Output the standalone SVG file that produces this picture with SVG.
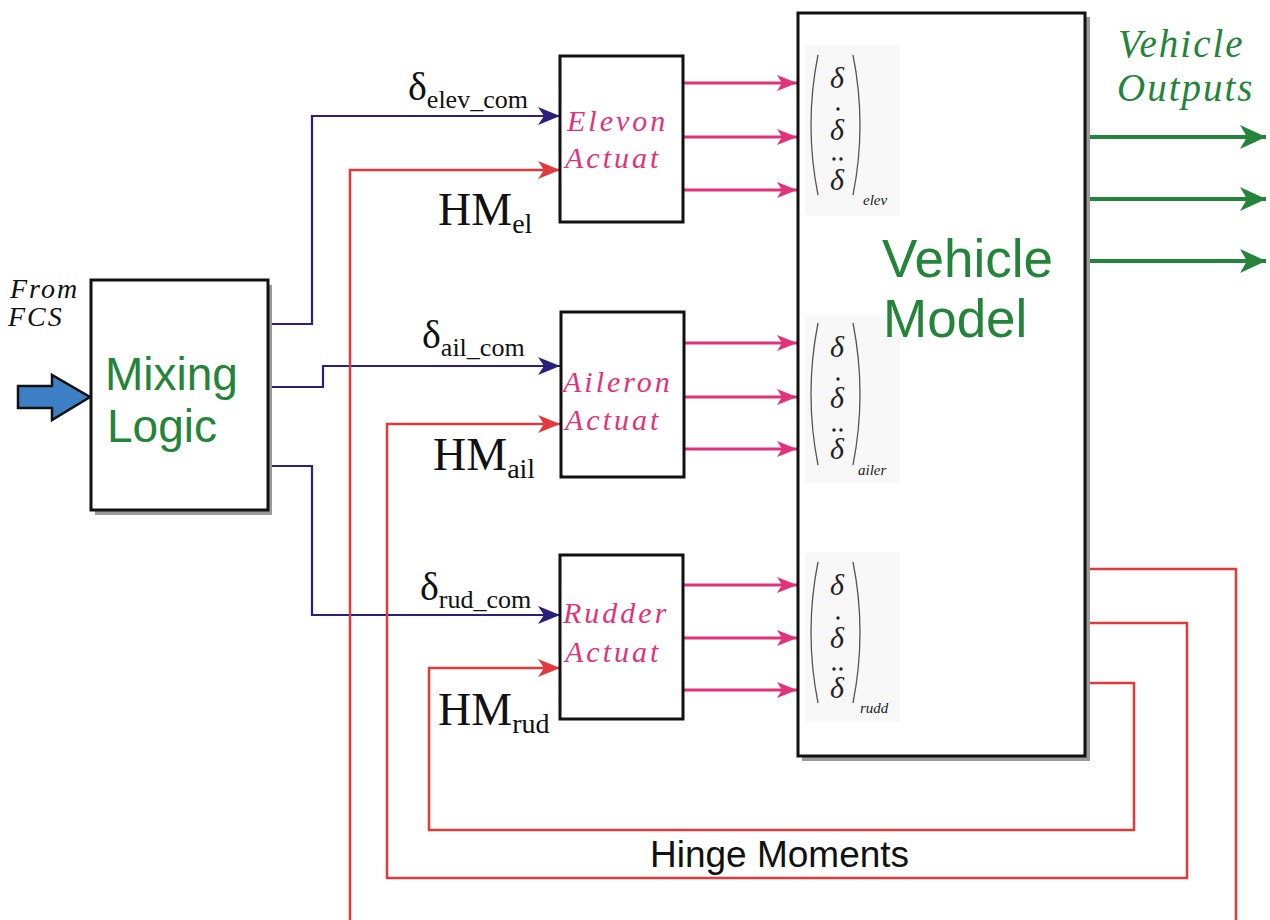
<svg xmlns="http://www.w3.org/2000/svg" width="1270" height="920" viewBox="0 0 1270 920">
<style>
.box{fill:#fff;stroke:#111;stroke-width:3}
.shadow{fill:#9a9a9a}
.blue{fill:none;stroke:#2b1f7d;stroke-width:2.2}
.red{fill:none;stroke:#e03a3a;stroke-width:2.5}
.pink{fill:none;stroke:#e0337a;stroke-width:3}
.green{fill:none;stroke:#23843a;stroke-width:4}
.serif{font-family:"Liberation Serif","Times New Roman",serif;fill:#111}
.it{font-style:italic}
.sans{font-family:"Liberation Sans",Arial,sans-serif}
.gtxt{fill:#23843a}
.ptxt{font-family:"Liberation Serif","Times New Roman",serif;font-style:italic;fill:#e0337a;font-size:30px;letter-spacing:3px}
.mbg{fill:#f8f8f8}
.paren{fill:none;stroke:#555;stroke-width:1.3}
.md{font-family:"Liberation Serif","Times New Roman",serif;font-style:italic;font-size:30px;fill:#222;text-anchor:middle}
.msub{font-family:"Liberation Serif","Times New Roman",serif;font-style:italic;font-size:15px;fill:#222}
.dot{fill:#222}
</style>
<defs>
<marker id="ab" markerUnits="userSpaceOnUse" markerWidth="22" markerHeight="18" refX="22" refY="9" orient="auto"><path d="M0,0 L22,9 L0,18 L6,9 z" fill="#2b1f7d"/></marker>
<marker id="ar" markerUnits="userSpaceOnUse" markerWidth="22" markerHeight="18" refX="22" refY="9" orient="auto"><path d="M0,0 L22,9 L0,18 L6,9 z" fill="#e03a3a"/></marker>
<marker id="ap" markerUnits="userSpaceOnUse" markerWidth="20" markerHeight="16" refX="20" refY="8" orient="auto"><path d="M0,0 L20,8 L0,16 L5,8 z" fill="#e0337a"/></marker>
<marker id="ag" markerUnits="userSpaceOnUse" markerWidth="26" markerHeight="24" refX="26" refY="12" orient="auto"><path d="M0,0 L26,12 L0,24 L7,12 z" fill="#23843a"/></marker>
</defs>
<rect width="1270" height="920" fill="#fff"/>

<g id="connectors">
<path class="blue" d="M268,324 H312 V116 H560" marker-end="url(#ab)"/>
<path class="blue" d="M268,387 H323 V366 H560" marker-end="url(#ab)"/>
<path class="blue" d="M268,466 H312 V615 H560" marker-end="url(#ab)"/>
<path class="red" d="M350,925 V170 H560" marker-end="url(#ar)"/>
<path class="red" d="M1088,569 H1236 V925"/>
<path class="red" d="M1088,623 H1187 V878 H387 V424 H560" marker-end="url(#ar)"/>
<path class="red" d="M1088,683 H1134 V830 H429 V668 H560" marker-end="url(#ar)"/>
<path class="pink" d="M684,83 H797" marker-end="url(#ap)"/>
<path class="pink" d="M684,137 H797" marker-end="url(#ap)"/>
<path class="pink" d="M684,190 H797" marker-end="url(#ap)"/>
<path class="pink" d="M684,343 H797" marker-end="url(#ap)"/>
<path class="pink" d="M684,397 H797" marker-end="url(#ap)"/>
<path class="pink" d="M684,449 H797" marker-end="url(#ap)"/>
<path class="pink" d="M684,585 H797" marker-end="url(#ap)"/>
<path class="pink" d="M684,638 H797" marker-end="url(#ap)"/>
<path class="pink" d="M684,690 H797" marker-end="url(#ap)"/>
<path class="green" d="M1088,137 H1266" marker-end="url(#ag)"/>
<path class="green" d="M1088,199 H1266" marker-end="url(#ag)"/>
<path class="green" d="M1088,261 H1266" marker-end="url(#ag)"/>
</g>

<g id="input">
<path d="M18,386 H52 V375 L90,397 L52,420 V408 H18 Z" fill="#3d7fc4" stroke="#111" stroke-width="2.5" stroke-linejoin="miter"/>
<text class="serif it" font-size="28" letter-spacing="2" x="10" y="298">From</text>
<text class="serif it" font-size="28" letter-spacing="2" x="8" y="326">FCS</text>
</g>

<g id="mixing">
<rect class="shadow" x="95" y="285" width="177" height="230"/>
<rect class="box" x="91" y="280" width="177" height="230"/>
<text class="sans gtxt" font-size="46" x="105" y="390">Mixing</text>
<text class="sans gtxt" font-size="46" x="107" y="442">Logic</text>
</g>

<g id="labels">
<text class="serif" x="408" y="100"><tspan font-size="40">δ</tspan><tspan font-size="26" dy="8">elev_com</tspan></text>
<text class="serif" x="422" y="348"><tspan font-size="40">δ</tspan><tspan font-size="26" dy="8">ail_com</tspan></text>
<text class="serif" x="420" y="600"><tspan font-size="40">δ</tspan><tspan font-size="26" dy="8">rud_com</tspan></text>
<text class="serif" x="438" y="225"><tspan font-size="46">HM</tspan><tspan font-size="28" dy="8">el</tspan></text>
<text class="serif" x="433" y="470"><tspan font-size="46">HM</tspan><tspan font-size="28" dy="8">ail</tspan></text>
<text class="serif" x="438" y="725"><tspan font-size="46">HM</tspan><tspan font-size="28" dy="8">rud</tspan></text>
<text class="sans" font-size="37" fill="#111" x="650" y="867">Hinge Moments</text>
</g>

<g id="elevon">
<rect class="box" x="560" y="56" width="123" height="166"/>
<text class="ptxt" x="567" y="131">Elevon</text>
<text class="ptxt" x="565" y="168">Actuat</text>
</g>

<g id="aileron">
<rect class="box" x="561" y="312" width="123" height="165"/>
<text class="ptxt" x="563" y="392">Aileron</text>
<text class="ptxt" x="565" y="430">Actuat</text>
</g>

<g id="rudder">
<rect class="box" x="560" y="555" width="123" height="164"/>
<text class="ptxt" x="563" y="623">Rudder</text>
<text class="ptxt" x="565" y="662">Actuat</text>
</g>

<g id="vehicle">
<rect class="shadow" x="802" y="17" width="288" height="744"/>
<rect class="box" x="798" y="13" width="287" height="743"/>

<rect class="mbg" x="805" y="45" width="95" height="170"/>
<path class="paren" d="M818,55 Q804,125 818,195"/>
<path class="paren" d="M853,55 Q867,125 853,195"/>
<text class="md" x="837" y="88">δ</text>
<text class="md" x="837" y="140">δ</text>
<text class="md" x="837" y="190">δ</text>
<circle class="dot" cx="838" cy="109" r="1.7"/>
<circle class="dot" cx="834" cy="159" r="1.7"/>
<circle class="dot" cx="841" cy="159" r="1.7"/>
<text class="msub" x="863" y="205">elev</text>

<rect class="mbg" x="805" y="315" width="95" height="168"/>
<path class="paren" d="M818,323 Q804,394 818,465"/>
<path class="paren" d="M853,323 Q867,394 853,465"/>
<text class="md" x="837" y="357">δ</text>
<text class="md" x="837" y="408">δ</text>
<text class="md" x="837" y="459">δ</text>
<circle class="dot" cx="838" cy="379" r="1.7"/>
<circle class="dot" cx="834" cy="430" r="1.7"/>
<circle class="dot" cx="841" cy="430" r="1.7"/>
<text class="msub" x="858" y="475">ailer</text>

<rect class="mbg" x="805" y="553" width="95" height="169"/>
<path class="paren" d="M818,562 Q804,632 818,703"/>
<path class="paren" d="M853,562 Q867,632 853,703"/>
<text class="md" x="837" y="595">δ</text>
<text class="md" x="837" y="648">δ</text>
<text class="md" x="837" y="698">δ</text>
<circle class="dot" cx="838" cy="618" r="1.7"/>
<circle class="dot" cx="834" cy="669" r="1.7"/>
<circle class="dot" cx="841" cy="669" r="1.7"/>
<text class="msub" x="860" y="713">rudd</text>

<text class="sans gtxt" font-size="53" x="882" y="277">Vehicle</text>
<text class="sans gtxt" font-size="53" x="883" y="337">Model</text>
</g>

<g id="outputs">
<text class="serif it gtxt" font-size="39" letter-spacing="2" x="1118" y="57">Vehicle</text>
<text class="serif it gtxt" font-size="39" letter-spacing="2" x="1117" y="101">Outputs</text>
</g>
</svg>
